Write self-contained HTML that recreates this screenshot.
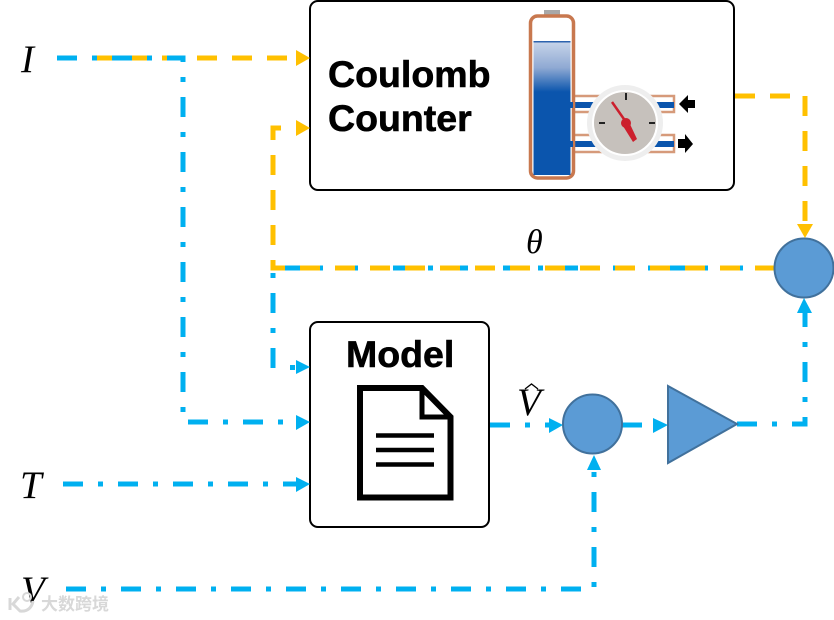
<!DOCTYPE html>
<html><head><meta charset="utf-8"><style>
html,body{margin:0;padding:0;background:#fff;width:834px;height:620px;overflow:hidden}
svg{display:block}
text{font-family:"Liberation Sans","Noto Sans CJK SC",sans-serif}
.m{font-family:"Liberation Serif",serif;font-style:italic;font-size:39px;fill:#000}
.b{font-weight:bold;font-size:37.500px;fill:#000;stroke:#000;stroke-width:.6}
.y{fill:none;stroke:#ffc000;stroke-width:5;stroke-dasharray:20 15}
.c{fill:none;stroke:#00b0f0;stroke-width:5;stroke-dasharray:20 15 5 15}
.s{fill:#5b9bd5;stroke:#41719c;stroke-width:2}
</style></head><body>
<svg width="834" height="620" viewBox="0 0 834 620" xmlns="http://www.w3.org/2000/svg">
<defs>
<linearGradient id="liq" x1="0" y1="0" x2="0" y2="1">
<stop offset="0" stop-color="#c9d6ea"/><stop offset=".2" stop-color="#8fa9d3"/><stop offset=".38" stop-color="#0b55ad"/><stop offset="1" stop-color="#0b55ad"/>
</linearGradient>
</defs>

<!-- boxes -->
<rect x="310" y="1" width="424" height="189" rx="8" fill="#fff" stroke="#000" stroke-width="2"/>
<rect x="310" y="322" width="179" height="205" rx="8" fill="#fff" stroke="#000" stroke-width="2"/>
<text class="b" x="328" y="87">Coulomb</text>
<text class="b" x="328" y="131">Counter</text>
<text class="b" x="346" y="367">Model</text>

<!-- battery / gauge -->
<rect x="544" y="10" width="16" height="5" fill="#a8a8a8"/>
<path d="M572 96H674V112H572M572 135H674V152H572" fill="#fff" stroke="#d69a7a" stroke-width="2.500"/>
<rect x="568" y="102" width="106" height="6" fill="#0b55ad"/>
<rect x="568" y="141" width="106" height="6" fill="#0b55ad"/>
<rect x="530.500" y="16" width="43" height="162" rx="7" fill="#fff" stroke="#c8784f" stroke-width="3.500"/>
<rect x="533.500" y="41" width="37" height="134" fill="url(#liq)"/>
<rect x="533.500" y="41" width="37" height="1.500" fill="#2d63ae"/>
<rect x="569" y="102" width="4" height="6" fill="#0b55ad"/>
<rect x="569" y="141" width="4" height="6" fill="#0b55ad"/>
<circle cx="625" cy="123" r="38" fill="#eeeeee"/>
<circle cx="625" cy="123" r="32" fill="#c6c1bc" stroke="#fff" stroke-width="2"/>
<path d="M626 93V100M599 123H605M649 123H655" stroke="#222" stroke-width="2"/>
<path d="M612 102L626 122" stroke="#cc1f2d" stroke-width="2.500" fill="none"/>
<path d="M623 126L633 142L637 139L629 122Z" fill="#cc1f2d"/>
<circle cx="626" cy="123" r="5" fill="#cc1f2d"/>
<path d="M679 104L688 95V100H695V108H688V113Z" fill="#000"/>
<path d="M693 144L685 134V139H678V148H685V153Z" fill="#000"/>

<!-- document -->
<path d="M360 388H422L450.500 417V497.500H360Z" fill="#fff" stroke="#000" stroke-width="6"/>
<path d="M422 388V417H450.500" fill="none" stroke="#000" stroke-width="5"/>
<path d="M376 435.500H434M376 450H434M376 464.500H434" stroke="#000" stroke-width="4.500"/>

<!-- blue connectors under orange -->
<path class="c" d="M798 268H273V368"/>
<rect x="290" y="365" width="5" height="5" fill="#00b0f0"/>
<path d="M296 360L310 367L296 374Z" fill="#00b0f0"/>

<!-- orange connectors -->
<path class="y" d="M92 58H297"/>
<path d="M296 50L310 58L296 66Z" fill="#ffc000"/>
<path class="y" d="M775 268H273V128H297"/>
<path d="M296 120L310 128L296 136Z" fill="#ffc000"/>
<path class="y" d="M735 96H805V225"/>
<path d="M797 224L805 238L813 224Z" fill="#ffc000"/>

<!-- blue connectors on top -->
<path class="c" d="M57 58H183V422H297"/>
<path d="M296 415L310 422L296 430Z" fill="#00b0f0"/>
<path class="c" d="M63 484H297"/>
<path d="M296 477L310 484L296 492Z" fill="#00b0f0"/>
<path class="c" d="M66 589H594V469"/>
<path d="M587 470L594 455L601 470Z" fill="#00b0f0"/>
<path class="c" d="M490 425H550"/>
<path d="M549 418L563 425L549 433Z" fill="#00b0f0"/>
<path class="c" d="M622 425H655"/>
<path d="M653 418L668 425L653 433Z" fill="#00b0f0"/>
<path class="c" d="M737 424H805V312"/>
<path d="M797 313L804 298L812 313Z" fill="#00b0f0"/>

<!-- shapes -->
<circle class="s" cx="804" cy="268" r="29.500"/>
<circle class="s" cx="592.500" cy="424" r="29.500"/>
<path class="s" d="M668 386L737 424L668 463Z"/>

<!-- labels -->
<text class="m" x="21" y="72">I</text>
<text class="m" x="20" y="498">T</text>
<text class="m" x="21" y="603">V</text>
<text class="m" x="517" y="415">V</text>
<path d="M525 389L531.500 384L538 389" fill="none" stroke="#000" stroke-width="1.300"/>
<text class="m" x="526" y="253" style="font-size:34px">θ</text>

<!-- watermark -->
<g>
<path d="M10 598V610M19 597L13 604L20 611C28 612 32 607 33 601" fill="none" stroke="#d8d8d8" stroke-width="3"/>
<circle cx="27" cy="597" r="4" fill="none" stroke="#d8d8d8" stroke-width="2"/>
<text x="41" y="610" style="font-size:17px;fill:#d8d8d8;font-weight:bold">大数跨境</text>
</g>
</svg>
</body></html>
